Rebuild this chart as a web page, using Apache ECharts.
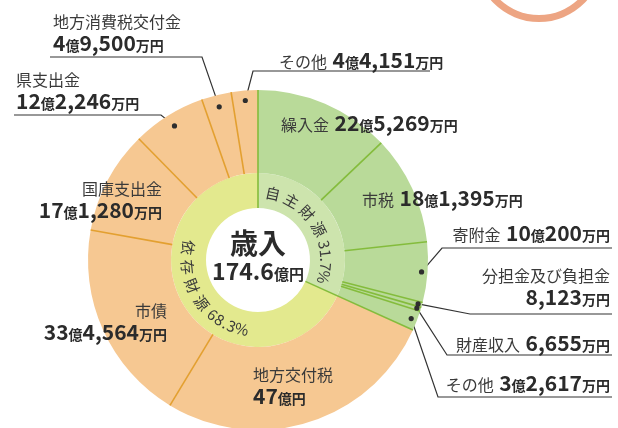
<!DOCTYPE html>
<html><head><meta charset="utf-8">
<script src="https://cdn.jsdelivr.net/npm/echarts@6/dist/echarts.min.js"></script>
<style>html,body{margin:0;padding:0;background:#fff}#c{width:618px;height:428px}</style>
</head><body><div id="c"></div>
<script>
// ---- data ----
const outerNames = ['繰入金','市税','寄附金','分担金及び負担金','財産収入','その他','地方交付税','市債','国庫支出金','県支出金','地方消費税交付金','その他'];
const outerValues = [22.5269, 18.1395, 10.0200, 0.8123, 0.6655, 3.2617, 47.0000, 33.4564, 17.1280, 12.2246, 4.9500, 4.4151];
const outerValueText = ['22億5,269万円','18億1,395万円','10億200万円','8,123万円','6,655万円','3億2,617万円','47億円','33億4,564万円','17億1,280万円','12億2,246万円','4億9,500万円','4億4,151万円'];
const outerGroup = ['自主','自主','自主','自主','自主','自主','依存','依存','依存','依存','依存','依存'];
const innerNames = ['自主財源','依存財源'];
const innerPercents = [31.7, 68.3];
const centerTitle = '歳入';
const centerTotal = '174.6億円';

// ---- layout / style (not data) ----
const CX = 258, CY = 260, R_HOLE = 52, R_MID = 87, R_OUT = 170;
const NUM_FONT = "'Liberation Sans Narrow','Noto Sans CJK JP',sans-serif";
const JP_FONT = "'Noto Sans CJK JP',sans-serif";
const colors = {
  自主: {fill:'#b9da99', line:'#84bc3c', inner:'#cde4ad'},
  依存: {fill:'#f6c892', line:'#e3a030', inner:'#e3e98e'}
};
const labelPos = [
  {x:281, y:123, align:'left',  two:false},
  {x:362, y:198, align:'left',  two:false},
  {x:610, y:233, align:'right', two:false, under:[442,612,248], dotR:164},
  {x:610, y:287, align:'right', two:true,  under:[470,612,314], dotR:166},
  {x:610, y:343, align:'right', two:false, under:[447,612,355], dotR:166},
  {x:610, y:383, align:'right', two:false, under:[438,612,397], dotR:164},
  {x:253, y:386, align:'left',  two:true},
  {x:167, y:322, align:'right', two:true},
  {x:162, y:200, align:'right', two:true},
  {x:16,  y:91,  align:'left',  two:true,  under:[161,14,115], dotR:158},
  {x:53,  y:33,  align:'left',  two:true,  under:[202,50,57],  dotR:158},
  {x:279, y:60,  align:'left',  two:false, under:[253,430,71], dotR:160}
];

const total = outerValues.reduce((a, b) => a + b, 0);
let acc = 0;
const spans = outerValues.map(v => { const s = acc / total * 360; acc += v; return [s, acc / total * 360]; });
function pt(deg, r) { const a = deg * Math.PI / 180; return [CX + r * Math.sin(a), CY - r * Math.cos(a)]; }

function richValue(s) {
  return s.split(/([0-9][0-9,.]*)/).filter(Boolean)
    .map(p => /^[0-9]/.test(p) ? '{n|' + p + '}' : '{k|' + p + '}').join('');
}

const chart = echarts.init(document.getElementById('c'), null, {renderer: 'canvas'});

const graphics = [];
// decorative ring top right
graphics.push({type:'ring', shape:{cx:539, cy:-42, r:64, r0:57}, style:{fill:'#eda583'}, z:1, silent:true});

// divider lines
spans.forEach((sp, i) => {
  const prev = (i + outerValues.length - 1) % outerValues.length;
  const groupBoundary = outerGroup[prev] !== outerGroup[i];
  const g = groupBoundary ? '自主' : outerGroup[i];
  const r0 = groupBoundary ? R_HOLE : R_MID;
  const a = pt(sp[0], r0), b = pt(sp[0], R_OUT);
  graphics.push({type:'line', shape:{x1:a[0], y1:a[1], x2:b[0], y2:b[1]},
    style:{stroke:colors[g].line, lineWidth:1.6}, z:10, silent:true});
});

// dots at leader starts
labelPos.forEach((lp, i) => {
  if (!lp.under) return;
  const p = pt((spans[i][0] + spans[i][1]) / 2, lp.dotR);
  graphics.push({type:'circle', shape:{cx:p[0], cy:p[1], r:2.6}, style:{fill:'#2e2e2e'}, z:20, silent:true});
});

// curved ring labels
function advance(ch, cjk) {
  if (/[0-9]/.test(ch)) return 8.8;
  if (ch === '.') return 4.6;
  if (ch === '%') return 12.5;
  if (ch === ' ') return 2;
  return cjk;
}
function arcText(text, r, startDeg, dir, cjkAdv) {
  let theta = startDeg, prevAdv = null;
  for (const ch of text) {
    const adv = advance(ch, cjkAdv);
    if (prevAdv !== null) theta += dir * ((prevAdv + adv) / 2) / r * 180 / Math.PI;
    prevAdv = adv;
    if (ch === ' ') continue;
    const p = pt(theta, r);
    const rotDeg = dir > 0 ? theta : theta - 180;
    graphics.push({type:'text', x:p[0], y:p[1], rotation:-rotDeg * Math.PI / 180, z:30, silent:true,
      style:{text:ch, fill:'#3a3a3a', font:'15px ' + JP_FONT, align:'center', verticalAlign:'middle',
        textAlign:'center', textVerticalAlign:'middle'}});
  }
}
arcText(innerNames[0] + ' ' + innerPercents[0] + '%', 68, 12.5, 1, 20);
arcText(innerNames[1] + ' ' + innerPercents[1] + '%', 71, 280, -1, 19.5);

// center text
graphics.push({type:'text', x:CX, y:CY - 17, z:30, silent:true,
  style:{text:centerTitle, fill:'#2b2b2b', font:'bold 28px ' + JP_FONT, align:'center', verticalAlign:'middle',
    textAlign:'center', textVerticalAlign:'middle'}});
graphics.push({type:'text', x:CX, y:CY + 11, z:30, silent:true,
  style:{text:richValue(centerTotal), align:'center', verticalAlign:'middle', textAlign:'center', textVerticalAlign:'middle',
    rich:{
      n:{fontSize:23, fontWeight:'bold', fontFamily:NUM_FONT, fill:'#2b2b2b', lineHeight:26},
      k:{fontSize:15, fontWeight:'bold', fontFamily:JP_FONT, fill:'#2b2b2b', verticalAlign:'bottom', padding:[0,0,2,0]}
    }}});

const outerData = outerValues.map((v, i) => ({
  name: outerNames[i], value: v,
  itemStyle: {color: colors[outerGroup[i]].fill},
  labelLine: {show: !!labelPos[i].under}
}));
const innerData = innerPercents.map((v, i) => ({
  name: innerNames[i], value: v,
  itemStyle: {color: colors[i === 0 ? '自主' : '依存'].inner}
}));

chart.setOption({
  animation: false,
  backgroundColor: '#ffffff',
  graphic: {elements: graphics},
  series: [
    {
      type: 'pie', center: [CX, CY], radius: [R_HOLE, R_MID], startAngle: 90, clockwise: true,
      silent: true, label: {show: false}, labelLine: {show: false}, data: innerData, z: 2
    },
    {
      type: 'pie', center: [CX, CY], radius: [R_MID, R_OUT], startAngle: 90, clockwise: true,
      silent: true, avoidLabelOverlap: false, z: 3,
      label: {
        show: true, position: 'outside',
        formatter: function (p) {
          const lp = labelPos[p.dataIndex];
          if (lp.two) return '{t|' + outerNames[p.dataIndex] + '}\n' + richValue(outerValueText[p.dataIndex]);
          return '{s|' + outerNames[p.dataIndex] + ' }' + richValue(outerValueText[p.dataIndex]);
        },
        rich: {
          t: {fontSize:16, fontFamily:JP_FONT, color:'#3a3a3a', lineHeight:21},
          s: {fontSize:16, fontFamily:JP_FONT, color:'#3a3a3a', verticalAlign:'bottom', padding:[0,2,2,0]},
          n: {fontSize:21, fontWeight:'bold', fontFamily:NUM_FONT, color:'#2b2b2b', lineHeight:23},
          k: {fontSize:14, fontWeight:'bold', fontFamily:JP_FONT, color:'#2b2b2b', verticalAlign:'bottom', padding:[0,0,2,0]}
        }
      },
      labelLine: {show: true, smooth: false, lineStyle: {color: '#333', width: 1.2}},
      labelLayout: function (params) {
        const i = params.dataIndex;
        const lp = labelPos[i];
        const res = {x: lp.x, y: lp.y, align: lp.align, verticalAlign: 'middle'};
        if (lp.under) {
          const d = pt((spans[i][0] + spans[i][1]) / 2, lp.dotR);
          res.labelLinePoints = [d, [lp.under[0], lp.under[2]], [lp.under[1], lp.under[2]]];
        }
        return res;
      },
      data: outerData
    }
  ]
});
</script>
</body></html>
